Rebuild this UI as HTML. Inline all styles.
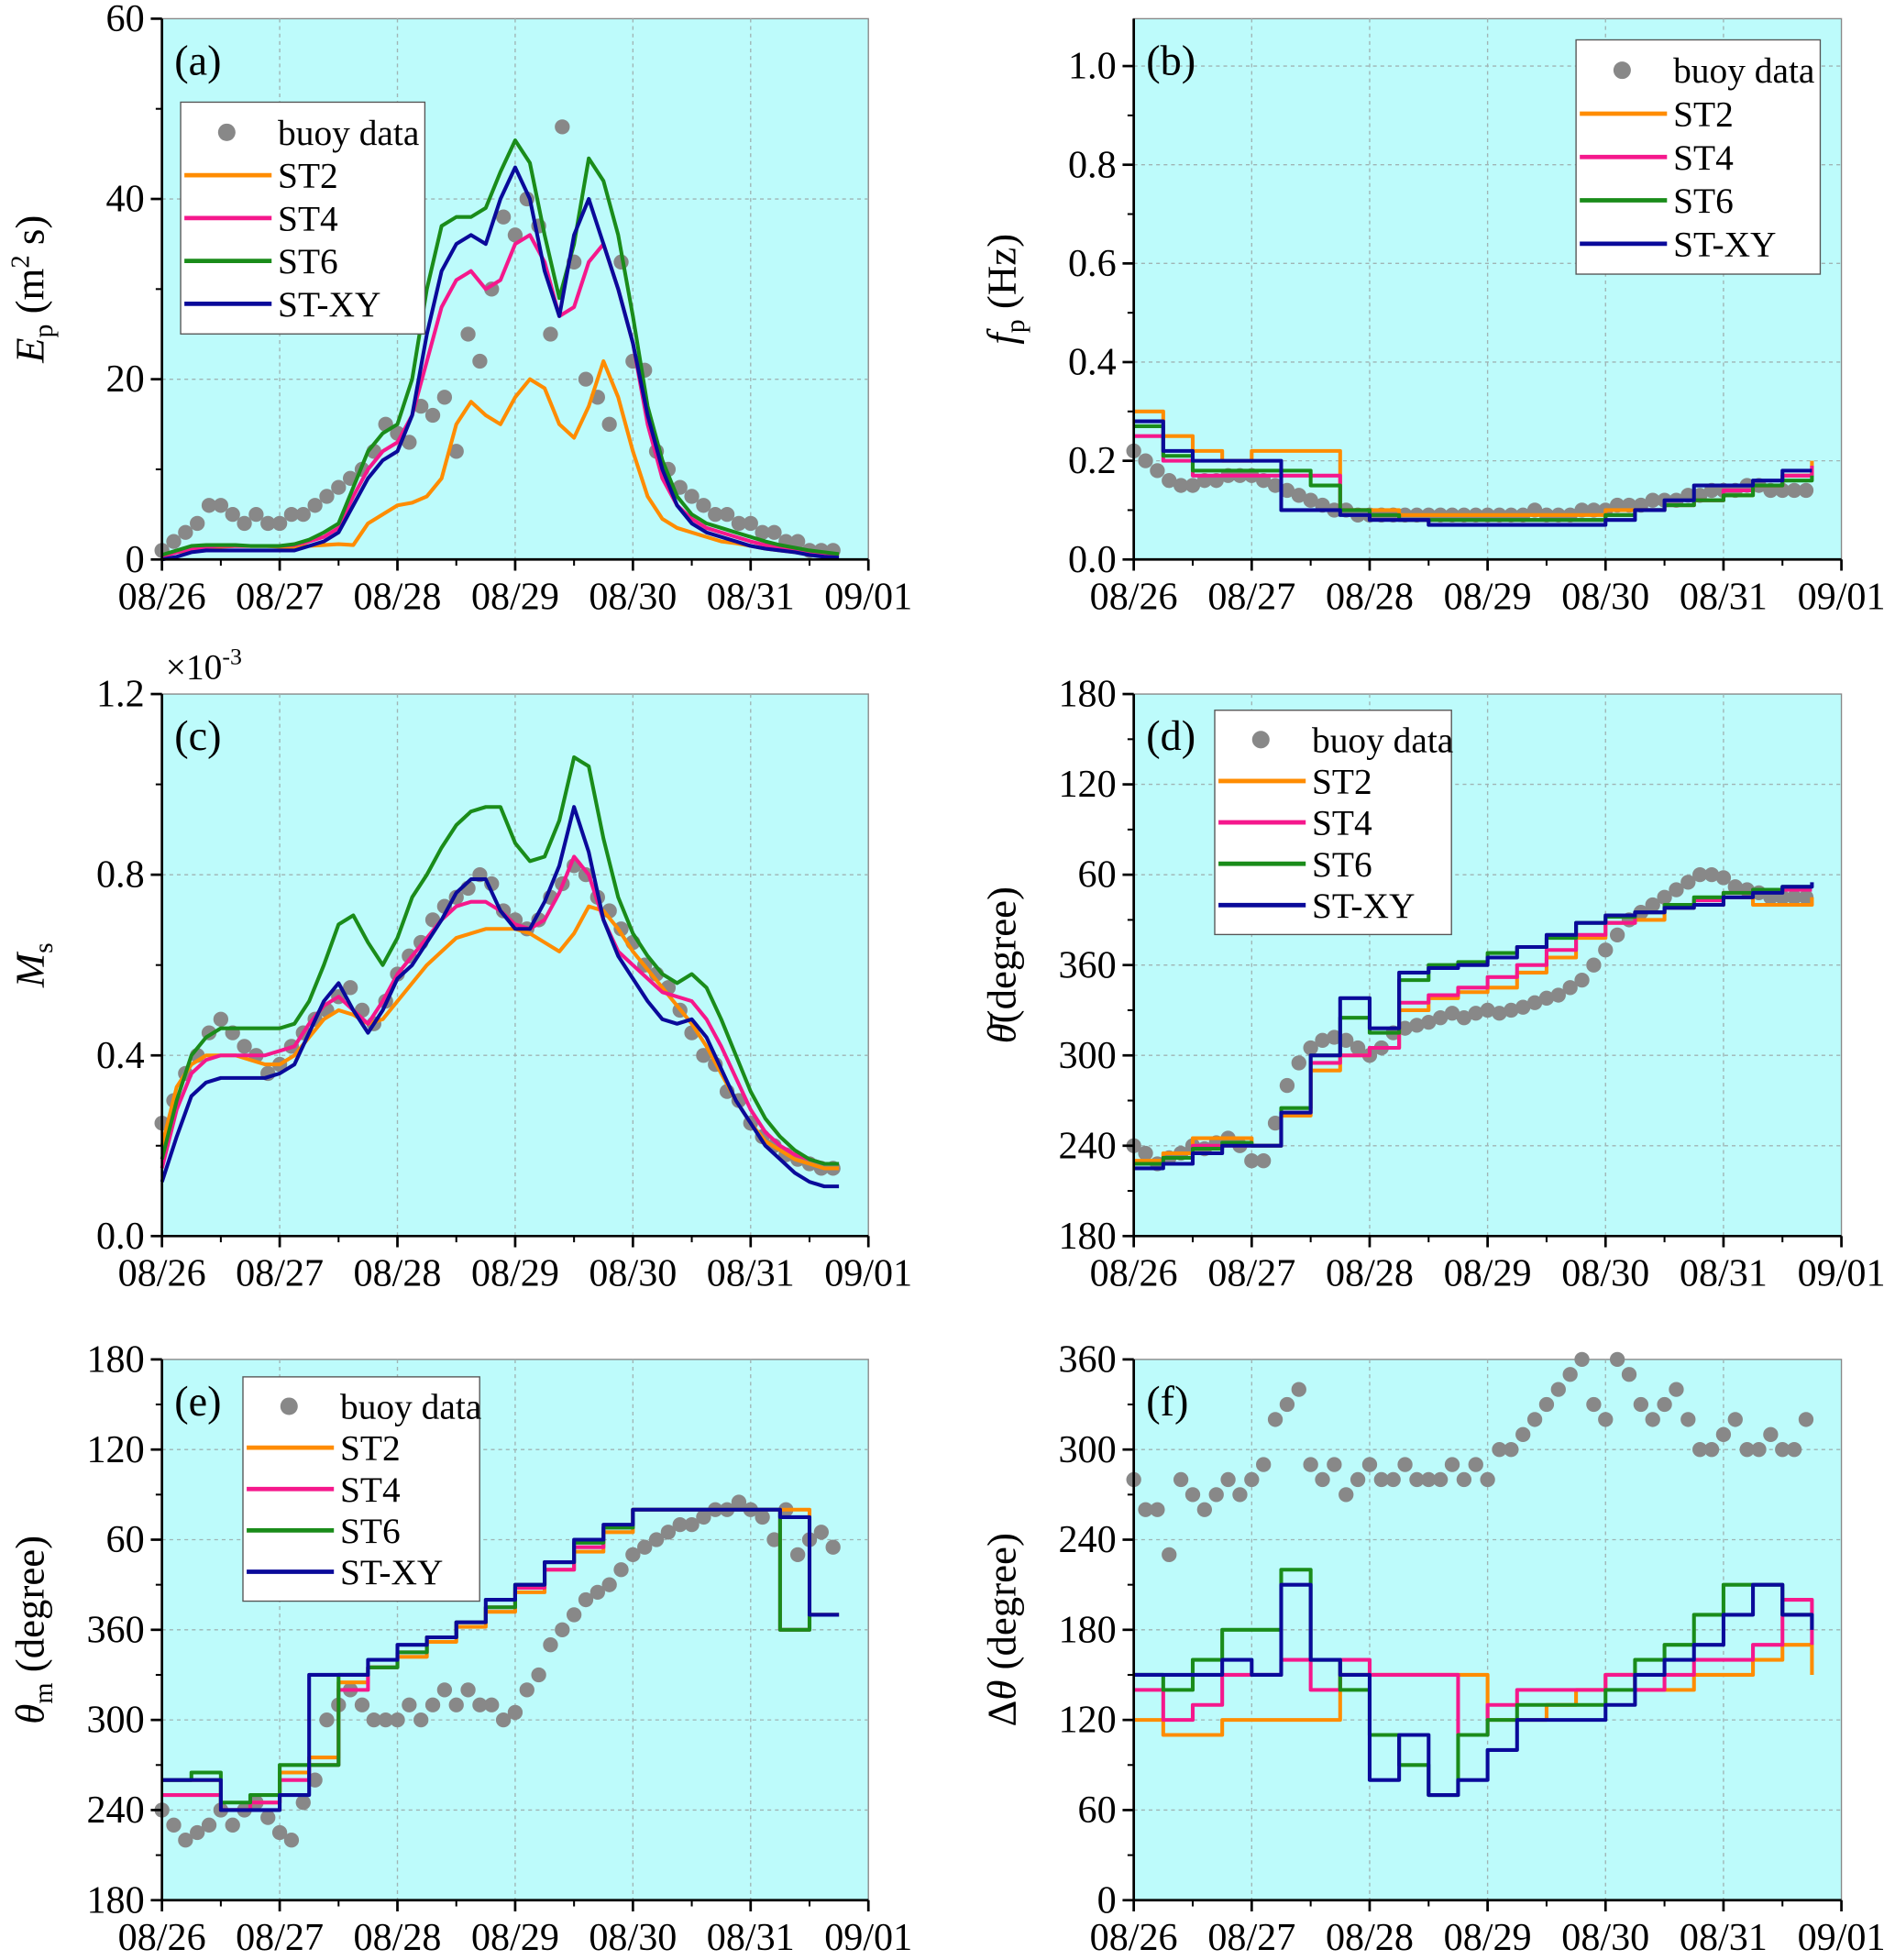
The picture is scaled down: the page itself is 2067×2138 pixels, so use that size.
<!DOCTYPE html>
<html><head><meta charset="utf-8"><style>
html,body{margin:0;padding:0;background:#fff}
svg{display:block}
</style></head><body>
<svg id="fig" width="2067" height="2138" viewBox="0 0 1521 1573" preserveAspectRatio="none" xmlns="http://www.w3.org/2000/svg" font-family="'Liberation Serif', 'DejaVu Serif', serif"></svg>
<script>
// ---- data ----
const dateLabels = ["08/26","08/27","08/28","08/29","08/30","08/31","09/01"];
// (a) Ep, smooth lines every 0.125 day
const aST2 = [0.5,0.8,1,1.2,1.4,1.5,1.5,1.5,1.4,1.4,1.5,1.6,1.7,1.6,4,5,6,6.3,7,9,15,17.5,16,15,18,20,19,15,13.5,17,22,18,12,7,4.5,3.5,3,2.5,2,1.8,1.5,1.2,1,0.8,0.6,0.5,0.4];
const aST4 = [0.3,0.8,1.2,1.4,1.5,1.5,1.5,1.5,1.5,1.6,2,2.5,3.5,7,10,12,13,16,22,28,31,32,30,31,35,36,33,27,28,33,35,30,24,15,9,6,4.5,3.5,3,2.5,2,1.6,1.3,1,0.8,0.6,0.5];
const aST6 = [0.5,1,1.5,1.6,1.6,1.6,1.5,1.5,1.5,1.7,2.2,3,4,8,12,14,15,20,30,37,38,38,39,43,46.5,44,36,29,35,44.5,42,36,27,17,11,7,5,4,3.5,3,2.5,2,1.6,1.3,1,0.8,0.6];
const aSTXY = [0,0.3,0.8,1,1,1,1,1,1,1,1.5,2,3,6,9,11,12,16,25,32,35,36,35,40,43.5,40,32,27,36,40,35,30,24,16,10,6,4,3,2.5,2,1.5,1.2,1,0.8,0.5,0.3,0.2];
const aBuoy = [1,2,3,4,6,6,5,4,5,4,4,5,5,6,7,8,9,10,12,15,14,13,17,16,18,12,25,22,30,38,36,40,37,25,48,33,20,18,15,33,22,21,12,10,8,7,6,5,5,4,4,3,3,2,2,1,1,1];
// (b) fp, steps every 0.25 day
const bST2 = [0.3,0.25,0.22,0.2,0.22,0.22,0.22,0.1,0.1,0.09,0.09,0.09,0.09,0.09,0.09,0.09,0.1,0.1,0.11,0.12,0.13,0.15,0.17,0.2];
const bST4 = [0.25,0.2,0.17,0.17,0.17,0.17,0.17,0.1,0.09,0.08,0.08,0.08,0.08,0.08,0.08,0.08,0.09,0.1,0.11,0.12,0.14,0.15,0.17,0.19];
const bST6 = [0.27,0.21,0.18,0.18,0.18,0.18,0.15,0.1,0.09,0.08,0.08,0.08,0.08,0.08,0.08,0.08,0.09,0.1,0.11,0.12,0.13,0.15,0.16,0.17];
const bSTXY = [0.28,0.22,0.2,0.2,0.2,0.1,0.1,0.09,0.08,0.08,0.07,0.07,0.07,0.07,0.07,0.07,0.08,0.1,0.12,0.15,0.15,0.16,0.18,0.18];
const bBuoy = [0.22,0.2,0.18,0.16,0.15,0.15,0.16,0.16,0.17,0.17,0.17,0.16,0.15,0.14,0.13,0.12,0.11,0.1,0.1,0.09,0.09,0.09,0.09,0.09,0.09,0.09,0.09,0.09,0.09,0.09,0.09,0.09,0.09,0.09,0.1,0.09,0.09,0.09,0.1,0.1,0.1,0.11,0.11,0.11,0.12,0.12,0.12,0.13,0.13,0.14,0.14,0.14,0.15,0.15,0.14,0.14,0.14,0.14];
// (c) Ms x1e-3
const cST2 = [0.2,0.33,0.38,0.4,0.4,0.4,0.39,0.38,0.38,0.4,0.44,0.48,0.5,0.49,0.47,0.48,0.52,0.56,0.6,0.63,0.66,0.67,0.68,0.68,0.68,0.67,0.65,0.63,0.67,0.73,0.72,0.68,0.63,0.59,0.55,0.51,0.47,0.42,0.36,0.3,0.25,0.21,0.19,0.17,0.16,0.15,0.15];
const cST4 = [0.15,0.28,0.36,0.39,0.4,0.4,0.4,0.4,0.41,0.42,0.47,0.51,0.53,0.5,0.47,0.52,0.58,0.62,0.66,0.7,0.73,0.74,0.74,0.72,0.69,0.68,0.7,0.76,0.84,0.8,0.7,0.63,0.6,0.57,0.54,0.53,0.52,0.48,0.42,0.35,0.28,0.23,0.2,0.18,0.17,0.16,0.16];
const cST6 = [0.17,0.3,0.4,0.44,0.46,0.46,0.46,0.46,0.46,0.47,0.52,0.6,0.69,0.71,0.65,0.6,0.66,0.75,0.8,0.86,0.91,0.94,0.95,0.95,0.87,0.83,0.84,0.92,1.06,1.04,0.88,0.75,0.67,0.62,0.58,0.56,0.58,0.55,0.48,0.4,0.32,0.26,0.22,0.19,0.17,0.16,0.16];
const cSTXY = [0.12,0.22,0.31,0.34,0.35,0.35,0.35,0.35,0.36,0.38,0.45,0.52,0.56,0.5,0.45,0.5,0.57,0.6,0.65,0.7,0.76,0.79,0.79,0.72,0.68,0.68,0.74,0.82,0.95,0.85,0.7,0.62,0.57,0.52,0.48,0.47,0.48,0.44,0.37,0.3,0.25,0.2,0.17,0.14,0.12,0.11,0.11];
const cBuoy = [0.25,0.3,0.36,0.4,0.45,0.48,0.45,0.42,0.4,0.36,0.38,0.42,0.45,0.48,0.5,0.53,0.55,0.5,0.47,0.52,0.58,0.62,0.65,0.7,0.73,0.75,0.77,0.8,0.78,0.72,0.7,0.68,0.7,0.75,0.78,0.82,0.8,0.75,0.72,0.68,0.65,0.6,0.58,0.55,0.5,0.45,0.4,0.38,0.32,0.3,0.25,0.22,0.2,0.18,0.17,0.16,0.15,0.15];
// (d) mean direction (unwrapped degrees, 180..540)
const dST2 = [230,235,245,245,240,260,290,300,305,330,338,342,345,355,365,378,388,390,398,400,405,400,400,405];
const dST4 = [228,232,240,240,240,262,295,300,305,335,340,345,352,360,370,380,388,395,400,403,408,410,410,410];
const dST6 = [228,232,238,242,240,265,300,325,315,350,360,362,368,372,378,388,392,395,400,405,408,410,412,412];
const dSTXY = [225,228,235,240,240,262,300,338,318,355,358,360,365,372,380,388,393,395,398,400,405,408,412,415];
const dBuoy = [240,235,228,232,235,240,238,242,245,240,230,230,255,280,295,305,310,312,310,305,300,305,315,318,320,322,325,328,325,328,330,328,330,332,335,338,340,345,350,360,370,380,390,395,400,405,410,415,420,420,418,412,410,408,405,405,405,405];
// (e) theta_m
const eST2 = [260,260,240,245,265,275,325,335,342,352,362,372,385,400,412,425,440,440,440,440,440,440,370,370];
const eST4 = [250,250,240,245,260,270,320,335,345,355,365,375,388,400,415,428,440,440,440,440,440,360,370,370];
const eST6 = [260,265,245,250,270,270,330,335,345,355,365,375,390,405,418,428,440,440,440,440,440,360,370,370];
const eSTXY = [260,260,240,240,250,330,330,340,350,355,365,380,390,405,420,430,440,440,440,440,440,435,370,370];
const eBuoy = [240,230,220,225,230,240,230,240,245,235,225,220,245,260,300,310,320,310,300,300,300,310,300,310,320,310,320,310,310,300,305,320,330,350,360,370,380,385,390,400,410,415,420,425,430,430,435,440,440,445,440,435,420,440,410,420,425,415];
// (f) spread
const fST2 = [120,110,110,120,120,120,120,150,150,150,150,150,120,120,130,140,150,140,140,150,150,160,170,150];
const fST4 = [140,120,130,150,150,160,140,160,150,150,150,110,130,140,140,140,150,140,150,160,160,170,200,170];
const fST6 = [150,140,160,180,180,220,160,140,110,90,70,110,120,130,130,130,140,160,170,190,210,210,190,190];
const fSTXY = [150,150,150,160,150,210,160,150,80,110,70,80,100,120,120,120,130,150,160,170,190,210,190,180];
const fBuoy = [280,260,260,230,280,270,260,270,280,270,280,290,320,330,340,290,280,290,270,280,290,280,280,290,280,280,280,290,280,290,280,300,300,310,320,330,340,350,360,330,320,360,350,330,320,330,340,320,300,300,310,320,300,300,310,300,300,320];

const COLORS = {ST2:"#ff8c00", ST4:"#f5188c", ST6:"#1a8c1a", STXY:"#0a0a9a"};
const NS = "http://www.w3.org/2000/svg";
const svg = document.getElementById("fig");
function el(tag, attrs, parent){const e=document.createElementNS(NS,tag);for(const k in attrs)e.setAttribute(k,attrs[k]);(parent||svg).appendChild(e);return e;}
const FF = "'Liberation Serif', serif";

function panel(p){
  const g = el("g",{"font-family":FF});
  
  
  const W=p.x1-p.x0, H=p.y1-p.y0;
  const xs = t => p.x0 + t/6*W;
  const ys = v => p.y1 - (v-p.ymin)/(p.ymax-p.ymin)*H;
  el("rect",{x:p.x0,y:p.y0,width:W,height:H,fill:"#bdfbfb",stroke:"#888","stroke-width":1},g);
  for(let i=1;i<6;i++) el("line",{x1:xs(i),x2:xs(i),y1:p.y0,y2:p.y1,stroke:"#a0b4b4","stroke-width":1,"stroke-dasharray":"3,3"},g);
  p.yticks.forEach(v=>{ if(v>p.ymin && v<p.ymax) el("line",{x1:p.x0,x2:p.x1,y1:ys(v),y2:ys(v),stroke:"#a0b4b4","stroke-width":1,"stroke-dasharray":"3,3"},g);});
  const series = [["ST2",p.s2],["ST4",p.s4],["ST6",p.s6],["STXY",p.sxy]];
  const bg = el("g",{},g);
  
  
  p.buoy.forEach((v,i)=>{ const c=el("circle",{cx:xs(i*0.1),cy:ys(Math.min(Math.max(v,p.ymin),p.ymax)),r:6,fill:"#888"},bg);
    
     });
  series.forEach(([k,arr])=>{
    let d="";
    const dt = p.step ? 0.25 : 0.125;
    arr.forEach((v,i)=>{ const X=xs(i*dt), Y=ys(v);
      if(i===0) d+="M"+X+","+Y;
      else if(p.step) d+="H"+X+"V"+Y;
      else d+="L"+X+","+Y; });
    const path = el("path",{d:d,fill:"none",stroke:COLORS[k],"stroke-width":3,"stroke-linejoin":"round"},g);
    
    
  });
  el("line",{x1:p.x0,x2:p.x0,y1:p.y0,y2:p.y1,stroke:"#000","stroke-width":2},g);
  el("line",{x1:p.x0,x2:p.x1,y1:p.y1,y2:p.y1,stroke:"#000","stroke-width":2},g);
  for(let i=0;i<=6;i++){
    el("line",{x1:xs(i),x2:xs(i),y1:p.y1,y2:p.y1+9,stroke:"#000","stroke-width":2},g);
    if(i<6) el("line",{x1:xs(i+0.5),x2:xs(i+0.5),y1:p.y1,y2:p.y1+5,stroke:"#000","stroke-width":1.5},g);
    const t = el("text",{x:xs(i),y:p.y1+40,"font-size":31,"text-anchor":"middle"},g);
    t.textContent = dateLabels[i];
    
    
  }
  p.yticks.forEach((v,i)=>{
    el("line",{x1:p.x0-9,x2:p.x0,y1:ys(v),y2:ys(v),stroke:"#000","stroke-width":2},g);
    if(i<p.yticks.length-1){const m=(v+p.yticks[i+1])/2; el("line",{x1:p.x0-5,x2:p.x0,y1:ys(m),y2:ys(m),stroke:"#000","stroke-width":1.5},g);}
    const t = el("text",{x:p.x0-14,y:ys(v)+10,"font-size":31,"text-anchor":"end"},g);
    t.textContent = p.ylabels[i];
    
    
  });
  const tag = el("text",{x:p.x0+10,y:p.y0+45,"font-size":34},g);
  tag.textContent = "("+p.id+")";
  
  
  const yt = el("text",{x:0,y:0,"font-size":33,"text-anchor":"middle",transform:"translate("+(p.x0-95)+","+((p.y0+p.y1)/2)+") rotate(-90)"},g);
  yt.innerHTML = p.ytitle;
  
  
  if(p.leg){
    const [lx,ly,lw,lh]=p.leg;
    const lg = el("g",{},g);
    
    
    el("rect",{x:lx,y:ly,width:lw,height:lh,fill:"#fff",stroke:"#555","stroke-width":1},lg);
    const rh = (lh-14)/5;
    const names=["buoy data","ST2","ST4","ST6","ST-XY"], keys=[null,"ST2","ST4","ST6","STXY"];
    names.forEach((n,i)=>{
      const cy = ly+7+rh*(i+0.5);
      if(i===0) el("circle",{cx:lx+37,cy:cy,r:7,fill:"#888"},lg);
      else el("line",{x1:lx+3,x2:lx+73,y1:cy,y2:cy,stroke:COLORS[keys[i]],"stroke-width":3.5},lg);
      const t=el("text",{x:lx+78,y:cy+10,"font-size":29},lg);
      t.textContent=n;
      
      
    });
  }
  if(p.extra) p.extra(g);
}
const dirTicks=[180,240,300,360,420,480,540], dirLabels=["180","240","300","360","60","120","180"];
panel({id:"a",x0:130,x1:697,y0:15,y1:449,ymin:0,ymax:60,yticks:[0,20,40,60],ylabels:["0","20","40","60"],
  s2:aST2,s4:aST4,s6:aST6,sxy:aSTXY,buoy:aBuoy,step:false,leg:[145,82,196,186],
  ytitle:'<tspan font-style="italic">E</tspan><tspan font-size="22" dy="7">p</tspan><tspan dy="-7"> (m</tspan><tspan font-size="21" dy="-12">2</tspan><tspan dy="12"> s)</tspan>'});
panel({id:"b",x0:910,x1:1478,y0:15,y1:449,ymin:0,ymax:1.096,yticks:[0,0.2,0.4,0.6,0.8,1.0],ylabels:["0.0","0.2","0.4","0.6","0.8","1.0"],
  s2:bST2,s4:bST4,s6:bST6,sxy:bSTXY,buoy:bBuoy,step:true,leg:[1265,32,196,188],
  ytitle:'<tspan font-style="italic">f</tspan><tspan font-size="22" dy="7">p</tspan><tspan dy="-7"> (Hz)</tspan>'});
panel({id:"c",x0:130,x1:697,y0:557,y1:992,ymin:0,ymax:1.2,yticks:[0,0.4,0.8,1.2],ylabels:["0.0","0.4","0.8","1.2"],
  s2:cST2,s4:cST4,s6:cST6,sxy:cSTXY,buoy:cBuoy,step:false,leg:null,
  ytitle:'<tspan font-style="italic">M</tspan><tspan font-size="22" dy="7">s</tspan>',
  extra:g=>{const t=el("text",{x:133,y:545,"font-size":29},g);t.innerHTML='×10<tspan font-size="19" dy="-12">-3</tspan>';
    
    }});
panel({id:"d",x0:910,x1:1478,y0:557,y1:992,ymin:180,ymax:540,yticks:dirTicks,ylabels:dirLabels,
  s2:dST2,s4:dST4,s6:dST6,sxy:dSTXY,buoy:dBuoy,step:true,leg:[975,570,190,180],
  ytitle:'<tspan font-style="italic">θ̄</tspan><tspan>(degree)</tspan>'});
panel({id:"e",x0:130,x1:697,y0:1091,y1:1525,ymin:180,ymax:540,yticks:dirTicks,ylabels:dirLabels,
  s2:eST2,s4:eST4,s6:eST6,sxy:eSTXY,buoy:eBuoy,step:true,leg:[195,1105,190,180],
  ytitle:'<tspan font-style="italic">θ</tspan><tspan font-size="22" dy="7">m</tspan><tspan dy="-7"> (degree)</tspan>'});
panel({id:"f",x0:910,x1:1478,y0:1091,y1:1525,ymin:0,ymax:360,yticks:[0,60,120,180,240,300,360],ylabels:["0","60","120","180","240","300","360"],
  s2:fST2,s4:fST4,s6:fST6,sxy:fSTXY,buoy:fBuoy,step:true,leg:null,
  ytitle:'<tspan>Δ</tspan><tspan font-style="italic">θ</tspan><tspan> (degree)</tspan>'});
</script>
</body></html>
